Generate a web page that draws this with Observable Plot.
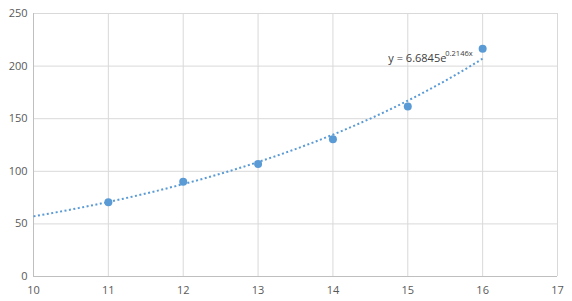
<!DOCTYPE html>
<html><head><meta charset="utf-8">
<script src="https://cdn.jsdelivr.net/npm/d3@7"></script>
<script src="https://cdn.jsdelivr.net/npm/@observablehq/plot@0.6"></script>
<style>body{margin:0;background:#fff;} svg{display:block;}</style>
</head><body><div id="chart"></div>
<script>
const xValues = [11, 12, 13, 14, 15, 16];
const yValues = [70.5, 90, 107, 130.5, 161.5, 216.5];
const xTicks = [10, 11, 12, 13, 14, 15, 16, 17];
const yTicks = [0, 50, 100, 150, 200, 250];
// Trendline equation shown on the chart: y = 6.6845 e^(0.2146 x)
const trendA = 6.6845;
const trendB = 0.2146;
const trendXs = d3.range(10, 16.001, 0.1);
const labelMain = "y = 6.6845e";
const labelSup = "0.2146x";
const labelPos = {x: 14.74, y: 207};

const points = xValues.map((x, i) => ({x, y: yValues[i]}));
const trend = trendXs.map(x => ({x, y: trendA * Math.exp(trendB * x)}));

const chart = Plot.plot({
  width: 572, height: 301,
  marginLeft: 33, marginRight: 15, marginTop: 13, marginBottom: 25,
  style: {fontFamily: "'Open Sans', sans-serif", fontSize: "11px", color: "#595959", background: "#fff"},
  x: {domain: [10, 17], ticks: xTicks, tickFormat: "d", tickSize: 0, tickPadding: 10, label: null},
  y: {domain: [0, 250], ticks: yTicks, tickFormat: "d", tickSize: 0, tickPadding: 6, label: null},
  marks: [
    Plot.gridX(xTicks, {stroke: "#d9d9d9", strokeOpacity: 1}),
    Plot.gridY(yTicks, {stroke: "#d9d9d9", strokeOpacity: 1}),
    Plot.ruleX([10], {stroke: "#bfbfbf"}),
    Plot.ruleY([0], {stroke: "#bfbfbf"}),
    Plot.line(trend, {x: "x", y: "y", stroke: "#5b9bd5", strokeWidth: 2, strokeDasharray: "2,2.5", strokeLinecap: "butt", curve: "monotone-x"}),
    Plot.dot(points, {x: "x", y: "y", r: 4, fill: "#5b9bd5", stroke: "none"}),
    Plot.text([labelPos], {x: "x", y: "y", text: () => labelMain, textAnchor: "start", fill: "#404040", fontSize: 11}),
    Plot.text([labelPos], {x: "x", y: "y", text: () => labelSup, textAnchor: "start", dx: 57, dy: -5, fill: "#404040", fontSize: 7.5})
  ]
});
document.getElementById("chart").appendChild(chart);
</script>
</body></html>
